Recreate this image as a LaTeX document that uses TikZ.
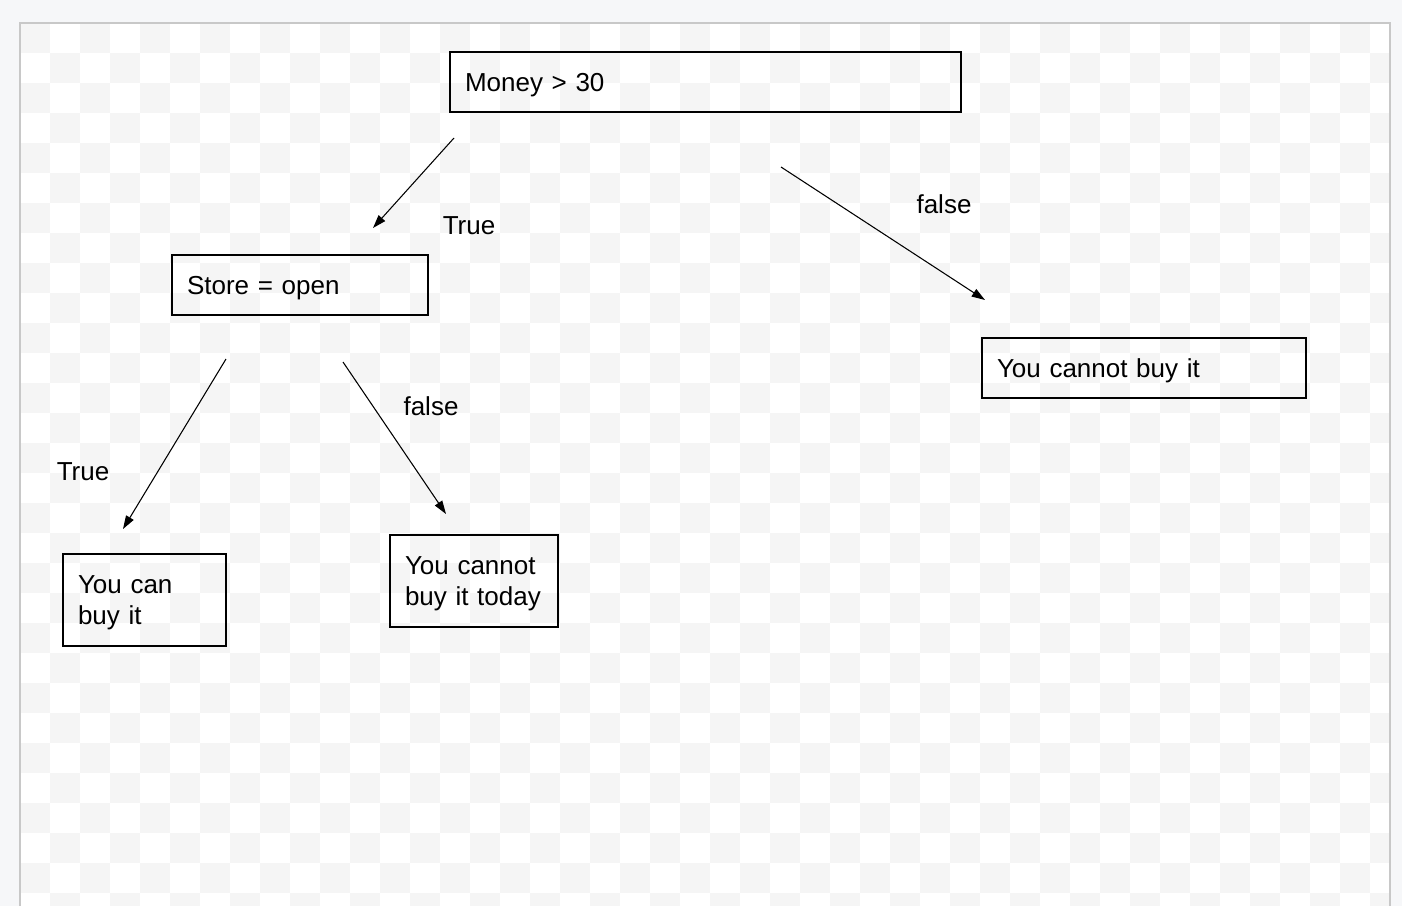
\documentclass[tikz,border=0pt]{standalone}
\usepackage{fontspec}
\setmainfont{Liberation Sans}
\usepackage{xcolor}
\usepackage{tikz}
\usetikzlibrary{arrows.meta}

\definecolor{pagegray}{HTML}{F6F7F9}
\definecolor{checkgray}{HTML}{F5F5F5}
\definecolor{framegray}{HTML}{C8C8C8}

\begin{document}
\begin{tikzpicture}
			[x=0.75pt,y=-0.75pt,
			box/.style={draw,line width=1.9pt,align=left,anchor=north west,outer sep=0pt,
				inner xsep=11.25pt,inner ysep=0pt,text depth=0pt,minimum height=45pt,
				font=\fontsize{19.5pt}{23.25pt}\selectfont},
			tallbox/.style={box,text depth=22.8pt,minimum height=69pt},
			lbl/.style={inner sep=0pt,font=\fontsize{19.5pt}{23.25pt}\selectfont},
			arr/.style={-{Triangle[length=10pt,width=6.5pt]},line width=0.8pt}]
			\useasboundingbox (0,0) rectangle (1402,906);
			% canvas
			\fill[pagegray] (0,0) rectangle (1402,906);
			\fill[white] (20,23) rectangle (1390,906);
			\begin{scope}
				\clip (20,23) rectangle (1390,906);
				\foreach \i in {0,...,45}
					\foreach \j in {0,...,29}
						{\ifodd\numexpr\i+\j\relax\else
							\fill[checkgray] (20+30*\i,23+30*\j) rectangle ++(30,30);
						\fi}
			\end{scope}
			\draw[framegray,line width=0.9pt] (20,906) -- (20,23) -- (1390,23) -- (1390,906);
			% boxes
			\node[box,text width=360.75pt] (money) at (450,52) {Money > 30};
			\node[box,text width=169.5pt] (store) at (172,255) {Store = open};
			\node[box,text width=220.5pt] (nobuy) at (982,338) {You cannot buy it};
			\node[tallbox,text width=99.75pt] (buy) at (63,554) {You can\\buy it};
			\node[tallbox,text width=103.5pt] (notoday) at (390,535) {You cannot\\buy it today};
			% arrow ends
			\coordinate (m1) at (454,138);
			\coordinate (s1) at (373,228);
			\coordinate (m2) at (781,167);
			\coordinate (n2) at (985,300);
			\coordinate (s3) at (226,359);
			\coordinate (b3) at (123,529);
			\coordinate (s4) at (343,362);
			\coordinate (t4) at (446,514);
			\path[arr]
			(m1) edge (s1)
			(m2) edge (n2)
			(s3) edge (b3)
			(s4) edge (t4);
			% labels
			\node[lbl] (trueA) at (469,226) {True};
			\node[lbl] (falseA) at (944,204) {false};
			\node[lbl] (trueB) at (83,472) {True};
			\node[lbl] (falseB) at (431,406) {false};
		\end{tikzpicture}
\end{document}
